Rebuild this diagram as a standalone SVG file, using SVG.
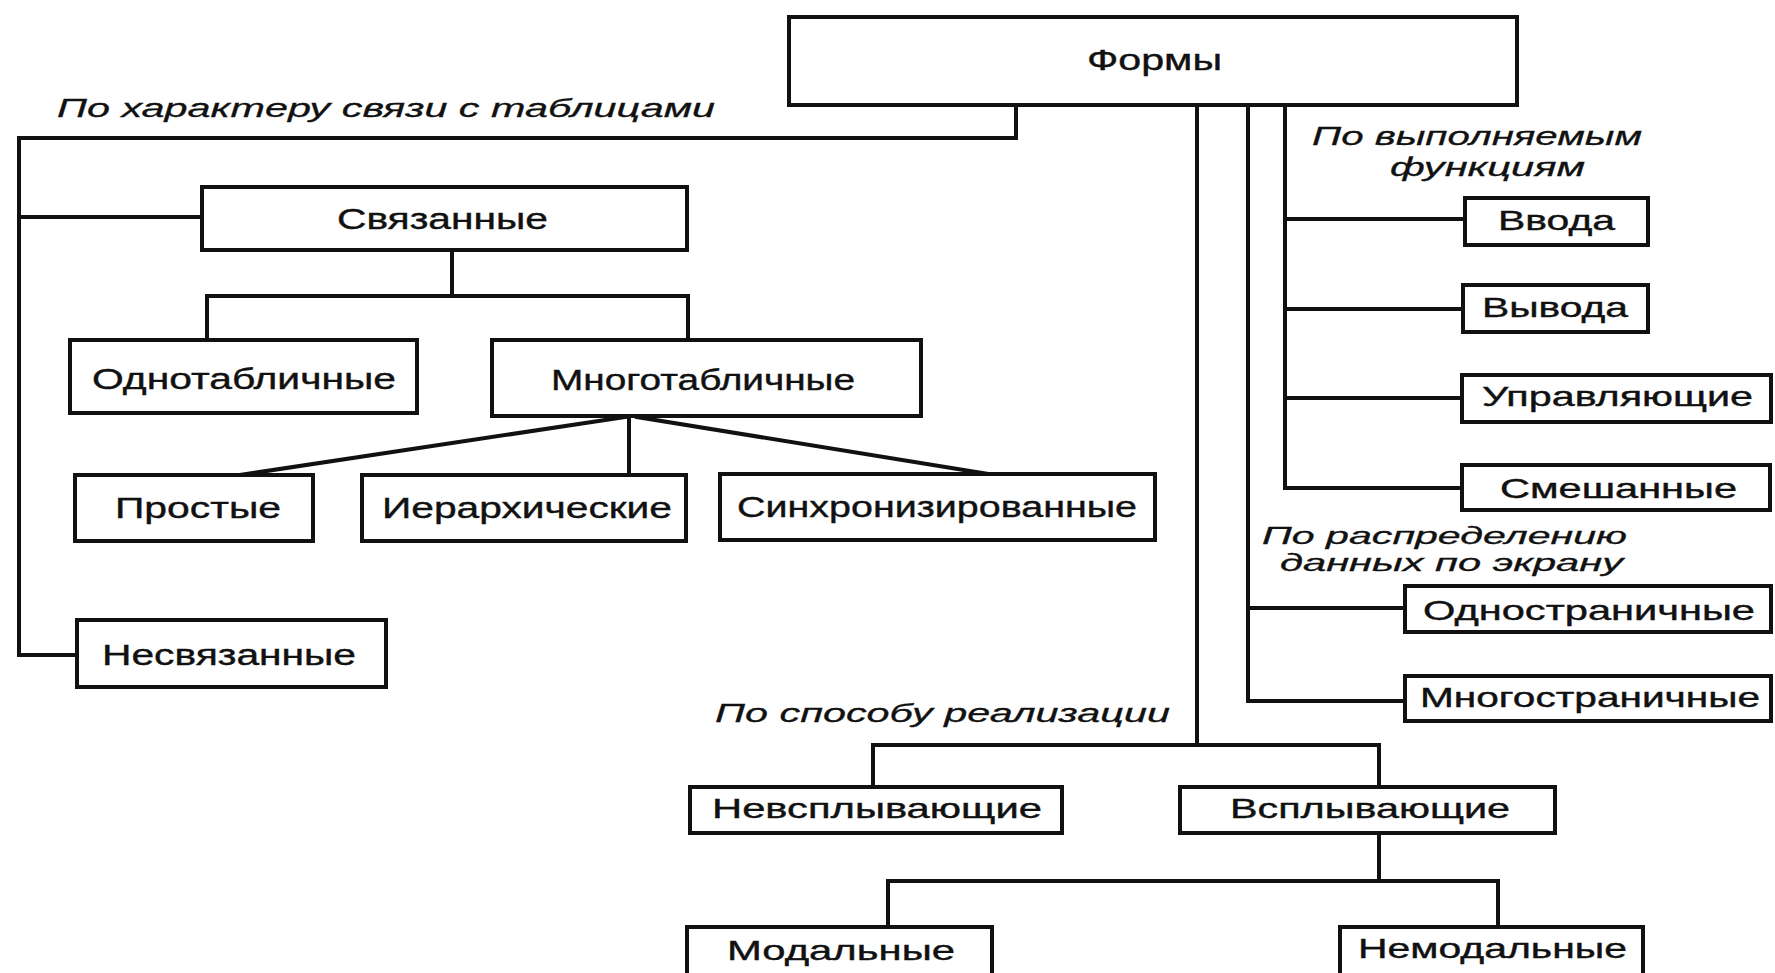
<svg xmlns="http://www.w3.org/2000/svg" width="1775" height="973" viewBox="0 0 1775 973">
<style>
.box{fill:#fff;stroke:#111;stroke-width:4}
.ln{fill:none;stroke:#111;stroke-width:4;stroke-linejoin:miter;stroke-linecap:square}
.t{font-family:"Liberation Sans",Arial,sans-serif;font-size:30px;fill:#111;stroke:#111;stroke-width:0.4}
.s{font-size:28px}
.lab{font-family:"Liberation Sans",Arial,sans-serif;font-size:26px;font-style:italic;fill:#111;stroke:#111;stroke-width:0.3}
.lab2{font-size:23px}
</style>
<rect width="1775" height="973" fill="#fff"/>
<g id="connectors">
<polyline class="ln" points="1016,105 1016,138 19,138 19,655 77,655"/>
<line class="ln" x1="19" y1="217" x2="202" y2="217"/>
<polyline class="ln" points="452,250 452,296"/>
<polyline class="ln" points="207,340 207,296 688,296 688,340"/>
<line class="ln" x1="625" y1="417" x2="240" y2="475"/>
<line class="ln" x1="629" y1="417" x2="629" y2="475"/>
<line class="ln" x1="637" y1="417" x2="988" y2="474"/>
<polyline class="ln" points="1197,105 1197,745"/>
<polyline class="ln" points="873,787 873,745 1379,745 1379,787"/>
<polyline class="ln" points="1379,833 1379,881"/>
<polyline class="ln" points="888,927 888,881 1498,881 1498,927"/>
<polyline class="ln" points="1248,105 1248,701 1405,701"/>
<line class="ln" x1="1248" y1="608" x2="1405" y2="608"/>
<polyline class="ln" points="1285,105 1285,488 1462,488"/>
<line class="ln" x1="1285" y1="219" x2="1465" y2="219"/>
<line class="ln" x1="1285" y1="309" x2="1463" y2="309"/>
<line class="ln" x1="1285" y1="398" x2="1462" y2="398"/>
</g>
<g id="labels">
<text class="lab" x="57" y="117" textLength="658" lengthAdjust="spacingAndGlyphs">По характеру связи с таблицами</text>
<text class="lab" x="1312" y="145" textLength="330" lengthAdjust="spacingAndGlyphs">По выполняемым</text>
<text class="lab" x="1390" y="176" textLength="195" lengthAdjust="spacingAndGlyphs">функциям</text>
<text class="lab lab2" x="1262" y="544" textLength="365" lengthAdjust="spacingAndGlyphs">По распределению</text>
<text class="lab lab2" x="1280" y="571" textLength="343" lengthAdjust="spacingAndGlyphs">данных по экрану</text>
<text class="lab" x="715" y="722" textLength="455" lengthAdjust="spacingAndGlyphs">По способу реализации</text>
</g>
<g id="n-formy"><rect class="box" x="789" y="17" width="728" height="88"/><text class="t" x="1087" y="70" textLength="135" lengthAdjust="spacingAndGlyphs">Формы</text></g>
<g id="n-svyazannye"><rect class="box" x="202" y="187" width="485" height="63"/><text class="t" x="337" y="229" textLength="211" lengthAdjust="spacingAndGlyphs">Связанные</text></g>
<g id="n-odnotab"><rect class="box" x="70" y="340" width="347" height="73"/><text class="t" x="92" y="389" textLength="304" lengthAdjust="spacingAndGlyphs">Однотабличные</text></g>
<g id="n-mnogotab"><rect class="box" x="492" y="340" width="429" height="76"/><text class="t" x="551" y="390" textLength="304" lengthAdjust="spacingAndGlyphs">Многотабличные</text></g>
<g id="n-prostye"><rect class="box" x="75" y="475" width="238" height="66"/><text class="t" x="115" y="518" textLength="166" lengthAdjust="spacingAndGlyphs">Простые</text></g>
<g id="n-ierarh"><rect class="box" x="362" y="475" width="324" height="66"/><text class="t" x="382" y="518" textLength="290" lengthAdjust="spacingAndGlyphs">Иерархические</text></g>
<g id="n-sinhr"><rect class="box" x="720" y="474" width="435" height="66"/><text class="t" x="737" y="517" textLength="400" lengthAdjust="spacingAndGlyphs">Синхронизированные</text></g>
<g id="n-nesvyaz"><rect class="box" x="77" y="620" width="309" height="67"/><text class="t" x="102" y="665" textLength="254" lengthAdjust="spacingAndGlyphs">Несвязанные</text></g>
<g id="n-vvoda"><rect class="box" x="1465" y="198" width="183" height="47"/><text class="t s" x="1498" y="230" textLength="117" lengthAdjust="spacingAndGlyphs">Ввода</text></g>
<g id="n-vyvoda"><rect class="box" x="1463" y="285" width="185" height="47"/><text class="t s" x="1482" y="317" textLength="146" lengthAdjust="spacingAndGlyphs">Вывода</text></g>
<g id="n-uprav"><rect class="box" x="1462" y="375" width="309" height="47"/><text class="t s" x="1482" y="406" textLength="271" lengthAdjust="spacingAndGlyphs">Управляющие</text></g>
<g id="n-smesh"><rect class="box" x="1462" y="465" width="308" height="45"/><text class="t s" x="1500" y="498" textLength="237" lengthAdjust="spacingAndGlyphs">Смешанные</text></g>
<g id="n-odnostr"><rect class="box" x="1405" y="586" width="366" height="46"/><text class="t s" x="1423" y="620" textLength="332" lengthAdjust="spacingAndGlyphs">Одностраничные</text></g>
<g id="n-mnogostr"><rect class="box" x="1405" y="676" width="366" height="45"/><text class="t s" x="1420" y="707" textLength="340" lengthAdjust="spacingAndGlyphs">Многостраничные</text></g>
<g id="n-nevspl"><rect class="box" x="690" y="787" width="372" height="46"/><text class="t s" x="712" y="818" textLength="330" lengthAdjust="spacingAndGlyphs">Невсплывающие</text></g>
<g id="n-vspl"><rect class="box" x="1180" y="787" width="375" height="46"/><text class="t s" x="1230" y="818" textLength="280" lengthAdjust="spacingAndGlyphs">Всплывающие</text></g>
<g id="n-modal"><rect class="box" x="687" y="927" width="305" height="52"/><text class="t s" x="727" y="960" textLength="228" lengthAdjust="spacingAndGlyphs">Модальные</text></g>
<g id="n-nemodal"><rect class="box" x="1340" y="927" width="303" height="52"/><text class="t s" x="1358" y="958" textLength="269" lengthAdjust="spacingAndGlyphs">Немодальные</text></g>
</svg>
